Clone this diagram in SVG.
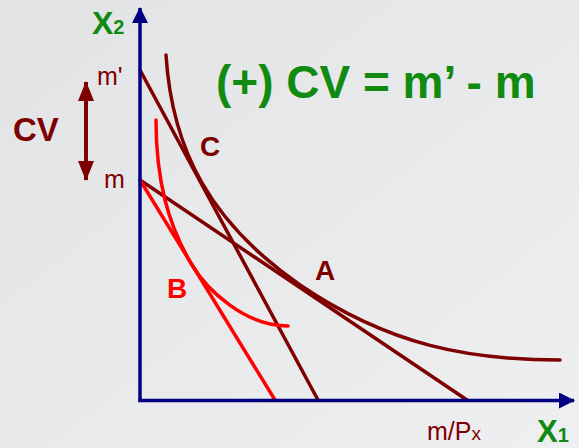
<svg xmlns="http://www.w3.org/2000/svg" width="579" height="448" viewBox="0 0 579 448">
<defs>
<linearGradient id="bg" x1="0" y1="0" x2="1" y2="1">
<stop offset="0" stop-color="#e2e3e5"/>
<stop offset="1" stop-color="#eeeff0"/>
</linearGradient>
<marker id="axh" viewBox="0 0 16 16" refX="15" refY="8" markerWidth="16" markerHeight="16" markerUnits="userSpaceOnUse" orient="auto">
<path d="M0,0 L16,8 L0,16 Z" fill="#000080"/>
</marker>
<marker id="cvh" viewBox="0 0 20 16" refX="19" refY="8" markerWidth="20" markerHeight="16" markerUnits="userSpaceOnUse" orient="auto-start-reverse">
<path d="M0,0 L20,8 L0,16 Z" fill="#800000"/>
</marker>
</defs>
<style>
.dr{stroke:#7f0000;stroke-width:3.5;fill:none;stroke-linecap:round}
.rd{stroke:#ff0000;stroke-width:3.5;fill:none;stroke-linecap:round}
.ax{stroke:#000080;stroke-width:3.5;fill:none}
.g{font-family:"Liberation Sans",Arial,sans-serif;font-weight:bold;fill:#118a11}
.t{font-family:"Liberation Sans",Arial,sans-serif;fill:#7f0000}
.b{font-weight:bold}
</style>
<rect width="579" height="448" fill="url(#bg)"/>
<g id="connectors">
<path id="budget-mprime" class="dr" d="M140,70 L318,400"/>
<path id="budget-m" class="dr" d="M140,180 L467,400"/>
<path id="budget-new" class="rd" d="M140,180 L275,400"/>
<path id="ic-high" class="dr" d="M166,55 C172,150 210,222 300,285 C390,346 470,360 560,360"/>
<path id="ic-low" class="rd" d="M156,120 C156,180 168,225 192,265 C207,290 245,326 288,326"/>
<path id="cv-arrow" d="M86,82 L86,180" stroke="#800000" stroke-width="4" fill="none" marker-start="url(#cvh)" marker-end="url(#cvh)"/>
</g>
<g id="axes">
<path id="axis-x2" class="ax" d="M140,402 L140,8" marker-end="url(#axh)"/>
<path id="axis-x1" class="ax" d="M138.5,400.5 L574,400.5" marker-end="url(#axh)"/>
</g>
<g id="label-x2"><text class="g" x="92" y="34" font-size="32">X<tspan font-size="20">2</tspan></text></g>
<g id="label-x1"><text class="g" x="537" y="442" font-size="31">X<tspan font-size="20">1</tspan></text></g>
<g id="label-mprime"><text class="t" x="97" y="85" font-size="25">m'</text></g>
<g id="label-m"><text class="t" x="104" y="188" font-size="25">m</text></g>
<g id="label-cv"><text class="t b" x="13" y="141" font-size="33">CV</text></g>
<g id="label-eq"><text class="g" x="216" y="98" font-size="46">(+) CV = m’ - m</text></g>
<g id="label-C"><text class="t b" x="200" y="156" font-size="28">C</text></g>
<g id="label-A"><text class="t b" x="315" y="280" font-size="28">A</text></g>
<g id="label-B"><text class="t b" x="167" y="298" font-size="28" style="fill:#ff0000">B</text></g>
<g id="label-mpx"><text class="t" x="427" y="440" font-size="25">m/P<tspan font-size="19">x</tspan></text></g>
</svg>
